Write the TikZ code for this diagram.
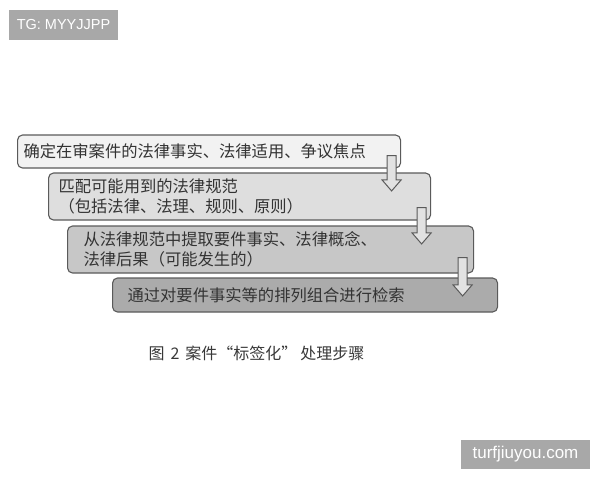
\documentclass[tikz,border=0pt]{standalone}
\usepackage{fontspec}
\setmainfont{Noto Sans CJK SC}
\newfontfamily\wmfont{Liberation Sans}
\usetikzlibrary{calc}
\definecolor{boxone}{HTML}{F2F2F2}
\definecolor{boxtwo}{HTML}{DEDEDE}
\definecolor{boxthree}{HTML}{C7C7C7}
\definecolor{boxfour}{HTML}{ABABAB}
\definecolor{edgegray}{HTML}{5A5A5A}
\definecolor{arrowfill}{HTML}{E2E2E2}
\definecolor{markgray}{HTML}{A8A8A8}
\begin{document}
\begin{tikzpicture}[x=1pt,y=-1pt,
  box node/.style={draw=edgegray,line width=1.1pt,rounded corners=5pt,anchor=west,
    align=left,text=black!80,font=\fontsize{16.3}{20}\selectfont,inner ysep=0pt},
  hollow arrow/.style={draw=edgegray,line width=1pt,fill=arrowfill},
  mark node/.style={fill=markgray,text=white,inner sep=0pt,font=\wmfont}]

  \useasboundingbox (0,0) rectangle (600,480);

  % steps
  \node[box node,fill=boxone,minimum width=383pt,minimum height=33pt,
    inner xsep=6pt,text width=371pt] (1) at (17,151.5)
    {确定在审案件的法律事实、法律适用、争议焦点};
  \node[box node,fill=boxtwo,minimum width=382pt,minimum height=47pt,
    inner xsep=10pt,text width=362pt] (2) at (48,196.5)
    {匹配可能用到的法律规范\\（包括法律、法理、规则、原则）};
  \node[box node,fill=boxthree,minimum width=406pt,minimum height=47pt,
    inner xsep=16pt,text width=374pt] (3) at (67,249.5)
    {从法律规范中提取要件事实、法律概念、\\法律后果（可能发生的）};
  \node[box node,fill=boxfour,minimum width=385pt,minimum height=34pt,
    inner xsep=15pt,text width=355pt] (4) at (112,295)
    {通过对要件事实等的排列组合进行检索};

  % arrows between steps
  \foreach \a/\b/\dx/\dy in {1/2/-9.5/-13,2/3/-9.5/-13,3/4/-11.5/-16}
    \draw[hollow arrow] let \p1=($(\a.south east)+(\dx,\dy)$), \p2=(\b.north) in
      (\x1-4.5pt,\y1) -- (\x1+4.5pt,\y1) -- (\x1+4.5pt,\y2-7.5pt) -- (\x1+9.5pt,\y2-7.5pt)
      -- (\x1,\y2-18.5pt) -- (\x1-9.5pt,\y2-7.5pt) -- (\x1-4.5pt,\y2-7.5pt) -- cycle;

  \node[anchor=west,text=black!78,font=\fontsize{16}{18}\selectfont] (cap) at (145,353)
    {图\hspace{6pt}2\hspace{6pt}案件“标签化”\hspace{3pt}处理步骤};

  % marks
  \node[mark node,minimum width=109pt,minimum height=30pt,font=\wmfont\fontsize{14.5}{16}\selectfont]
    (tg) at (63.5,25) {TG: MYYJJPP};
  \node[mark node,minimum width=129pt,minimum height=29pt,font=\wmfont\fontsize{17}{19}\selectfont]
    (site) at (525.5,454.5) {turfjiuyou.com};
\end{tikzpicture}
\end{document}
